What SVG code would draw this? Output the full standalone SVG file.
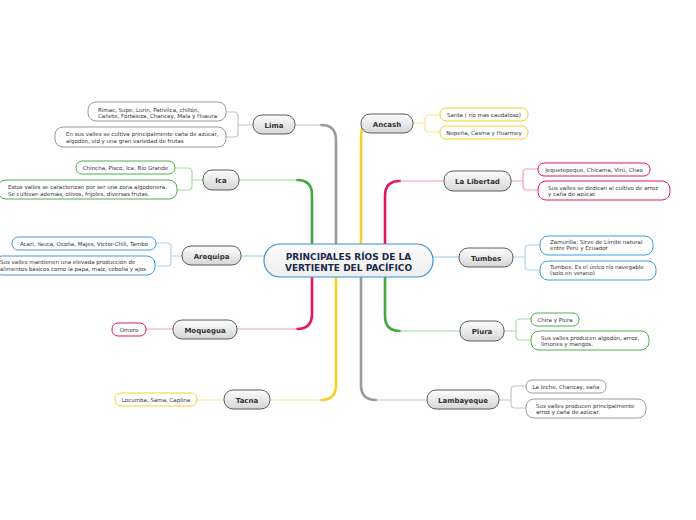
<svg xmlns="http://www.w3.org/2000/svg" width="696" height="520" viewBox="0 0 696 520">
<defs>
<linearGradient id="ng" x1="0" y1="0" x2="0" y2="1">
<stop offset="0" stop-color="#fdfdfd"/><stop offset="1" stop-color="#d6d6d6"/>
</linearGradient>
<linearGradient id="cg" x1="0" y1="0" x2="0" y2="1">
<stop offset="0" stop-color="#fbfbfb"/><stop offset="1" stop-color="#eeeeee"/>
</linearGradient>
</defs>
<style>
.main rect{fill:url(#ng);stroke:#5a5a5a;stroke-width:1}
.main text{font-family:"DejaVu Sans",Verdana,sans-serif;font-weight:bold;font-size:7px;fill:#333;text-anchor:middle}
.leaf rect{fill:#fff;stroke-width:1}
.leaf text{font-family:"DejaVu Sans",Verdana,sans-serif;font-size:5.5px;fill:#333}
.c{text-anchor:middle}
.gray rect{stroke:#9a9a9a}.green rect{stroke:#4cae4c}.blue rect{stroke:#3c9be0}.red rect{stroke:#e2175f}.yel rect{stroke:#f6cf2a}
#connectors path{fill:none;stroke-linecap:round}
.th{stroke-width:2.6}.tn{stroke-width:1.2}
</style>
<rect width="696" height="520" fill="#fff"/>
<g id="connectors">
<path class="th" stroke="#9a9a9a" d="M336,244 V140 Q336,125 321,125"/><path class="tn" stroke="#c4c4c4" d="M321,125 H295"/>
<path class="th" stroke="#3fa93f" d="M312,244 V195 Q312,180 297,180"/><path class="tn" stroke="#9fd89f" d="M297,180 H239"/>
<path class="tn" stroke="#8ec8f2" stroke-width="1.5" d="M264,256 H241"/>
<path class="th" stroke="#e2175f" d="M312,277 V314 Q312,329 297,329"/><path class="tn" stroke="#f49bbd" d="M297,329 H237"/>
<path class="th" stroke="#f6d02a" d="M336,277 V385 Q336,400 321,400"/><path class="tn" stroke="#fae58f" d="M321,400 H270"/>
<path class="th" stroke="#f6d02a" d="M361,244 V139 Q361,124 368,124"/>
<path class="th" stroke="#e2175f" d="M385,244 V196 Q385,181 400,181"/><path class="tn" stroke="#f49bbd" d="M400,181 H444"/>
<path class="tn" stroke="#8ec8f2" stroke-width="1.5" d="M433,257 H459"/>
<path class="th" stroke="#3fa93f" d="M385,277 V316 Q385,331 400,331"/><path class="tn" stroke="#9fd89f" d="M400,331 H460"/>
<path class="th" stroke="#9a9a9a" d="M361,277 V385 Q361,400 376,400"/><path class="tn" stroke="#c4c4c4" d="M376,400 H427"/>
<path class="tn" stroke="#c4c4c4" d="M253,125 H238 M226,112 H234 Q238,112 238,116 V133 Q238,137 234,137 H226"/>
<path class="tn" stroke="#a8dca8" d="M203,180 H192 M175,168 H188 Q192,168 192,172 V186 Q192,190 188,190 H177"/>
<path class="tn" stroke="#a8d4f2" d="M182,256 H171 M156,243 H167 Q171,243 171,247 V262 Q171,266 167,266 H155"/>
<path class="tn" stroke="#f49bbd" d="M173,329 H146"/>
<path class="tn" stroke="#fae58f" d="M224,400 H197"/>
<path class="tn" stroke="#fae58f" d="M413,123 H425 M440,115 H429 Q425,115 425,119 V128 Q425,132 429,132 H440"/>
<path class="tn" stroke="#f49bbd" d="M511,181 H523 M538,169 H527 Q523,169 523,173 V186 Q523,190 527,190 H538"/>
<path class="tn" stroke="#a8d4f2" d="M513,257 H525 M540,245 H529 Q525,245 525,249 V266 Q525,270 529,270 H540"/>
<path class="tn" stroke="#a8dca8" d="M504,331 H516 M531,319 H520 Q516,319 516,323 V336 Q516,340 520,340 H531"/>
<path class="tn" stroke="#c4c4c4" d="M499,400 H511 M526,386 H515 Q511,386 511,390 V404 Q511,408 515,408 H526"/>
</g>
<g id="center">
<rect x="264" y="244" width="169" height="33" rx="16" fill="url(#cg)" stroke="#3d8fd6" stroke-width="1.2"/>
<text x="348.5" y="259.5" font-family="DejaVu Sans,Verdana,sans-serif" font-weight="bold" font-size="9" fill="#1b2a4a" text-anchor="middle">PRINCIPALES RÍOS DE LA</text>
<text x="348.5" y="271" font-family="DejaVu Sans,Verdana,sans-serif" font-weight="bold" font-size="9" fill="#1b2a4a" text-anchor="middle">VERTIENTE DEL PACÍFICO</text>
</g>
<g id="lima" class="main"><rect x="253" y="115" width="42" height="19" rx="9"/><text x="274" y="127.5">Lima</text></g>
<g id="ica" class="main"><rect x="203" y="170" width="36" height="20" rx="9"/><text x="221" y="182.5">Ica</text></g>
<g id="arequipa" class="main"><rect x="182" y="246" width="59" height="19" rx="9"/><text x="211.5" y="258.5">Arequipa</text></g>
<g id="moquegua" class="main"><rect x="173" y="320" width="64" height="19" rx="9"/><text x="205" y="332.5">Moquegua</text></g>
<g id="tacna" class="main"><rect x="224" y="390" width="46" height="19" rx="9"/><text x="247" y="402.5">Tacna</text></g>
<g id="ancash" class="main"><rect x="361" y="114" width="52" height="19" rx="9"/><text x="387" y="126.5">Ancash</text></g>
<g id="lalibertad" class="main"><rect x="444" y="171" width="67" height="20" rx="9"/><text x="477.5" y="183.5">La Libertad</text></g>
<g id="tumbes" class="main"><rect x="459" y="248" width="54" height="19" rx="9"/><text x="486" y="260.5">Tumbes</text></g>
<g id="piura" class="main"><rect x="460" y="321" width="44" height="20" rx="9"/><text x="482" y="333.5">Piura</text></g>
<g id="lambayeque" class="main"><rect x="427" y="390" width="72" height="19" rx="9"/><text x="463" y="402.5">Lambayeque</text></g>

<g id="lima-1" class="leaf gray"><rect x="88" y="102" width="138" height="19" rx="8"/><text x="98" y="111.5">Rímac, Supe, Lurín, Pativilca, chillón,</text><text x="98" y="118">Cañete, Fortaleza, Chancay, Mala y Huaura</text></g>
<g id="lima-2" class="leaf gray"><rect x="55" y="127" width="171" height="20" rx="8"/><text x="66" y="136">En sus valles se cultiva principalmente caña de azúcar,</text><text x="66" y="143">algodón, vid y una gran variedad de frutas</text></g>
<g id="ica-1" class="leaf green"><rect x="76" y="161" width="99" height="13" rx="6"/><text class="c" x="125.5" y="170">Chincha, Pisco, Ica, Río Grande</text></g>
<g id="ica-2" class="leaf green"><rect x="-2" y="180" width="179" height="19" rx="8"/><text x="8" y="189">Estos valles se caracterizan por ser una zona algodonera.</text><text x="8" y="195.5">Se cultivan además, olivos, frijoles, diversas frutas.</text></g>
<g id="arequipa-1" class="leaf blue"><rect x="12" y="237" width="144" height="13" rx="6"/><text class="c" x="84" y="246">Acarí, Yauca, Ocoña, Majes, Victor-Chili, Tambo</text></g>
<g id="arequipa-2" class="leaf blue"><rect x="-6" y="256" width="161" height="19" rx="8"/><text x="0" y="264">Sus valles mantienen una elevada producción de</text><text x="0" y="270.5">alimentos básicos como la papa, maíz, cebolla y ajos</text></g>
<g id="moquegua-1" class="leaf red"><rect x="112" y="323" width="34" height="13" rx="6"/><text class="c" x="129" y="332">Omoro</text></g>
<g id="tacna-1" class="leaf yel"><rect x="115" y="393" width="82" height="13" rx="6"/><text class="c" x="156" y="402">Locumba, Sama, Caplina</text></g>
<g id="ancash-1" class="leaf yel"><rect x="440" y="108" width="88" height="13" rx="6"/><text class="c" x="484" y="117">Santa ( río mas caudaloso)</text></g>
<g id="ancash-2" class="leaf yel"><rect x="440" y="126" width="88" height="13" rx="6"/><text class="c" x="484" y="135">Nepeña, Casma y Huarmey</text></g>
<g id="lalibertad-1" class="leaf red"><rect x="538" y="163" width="112" height="13" rx="6"/><text class="c" x="594" y="172">Jequetepeque, Chicama, Virú, Chao</text></g>
<g id="lalibertad-2" class="leaf red"><rect x="538" y="181" width="132" height="19" rx="8"/><text x="548" y="190">Sus valles se dedican al cultivo de arroz</text><text x="548" y="196">y caña de azúcar.</text></g>
<g id="tumbes-1" class="leaf blue"><rect x="540" y="236" width="113" height="19" rx="8"/><text x="550" y="243.5">Zamurilla: Sirve de Límite natural</text><text x="550" y="250">entre  Perú y Ecuador</text></g>
<g id="tumbes-2" class="leaf blue"><rect x="540" y="261" width="116" height="19" rx="8"/><text x="550" y="268.5">Tumbes: Es el único río navegable</text><text x="550" y="275">(solo en verano)</text></g>
<g id="piura-1" class="leaf green"><rect x="531" y="313" width="48" height="13" rx="6"/><text class="c" x="555" y="322">Chira y Piura</text></g>
<g id="piura-2" class="leaf green"><rect x="531" y="331" width="118" height="19" rx="8"/><text x="541" y="340">Sus valles producen algodón, arroz,</text><text x="541" y="346">limones y mangos.</text></g>
<g id="lambayeque-1" class="leaf gray"><rect x="526" y="380" width="80" height="13" rx="6"/><text class="c" x="566" y="389">La leche, Chancay, saña</text></g>
<g id="lambayeque-2" class="leaf gray"><rect x="526" y="399" width="120" height="19" rx="8"/><text x="536" y="407.5">Sus valles producen principalmente</text><text x="536" y="413.5">arroz y caña de azúcar.</text></g>
</svg>
